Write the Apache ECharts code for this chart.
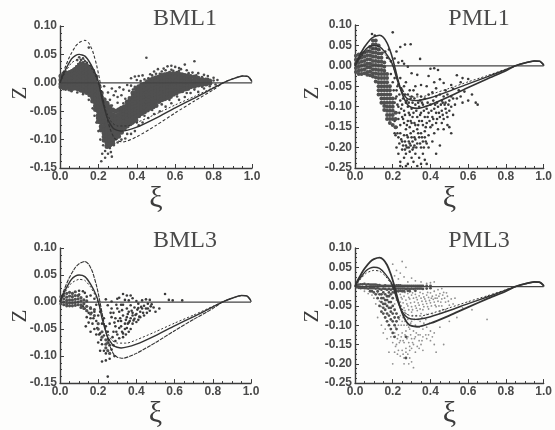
<!DOCTYPE html>
<html><head><meta charset="utf-8">
<style>html,body{margin:0;padding:0;background:#fdfdfc}#c{width:555px;height:430px}</style>
<script src="https://cdn.jsdelivr.net/npm/echarts@6/dist/echarts.min.js"></script></head>
<body><div id="c"></div>
<script>
// Shared reference curves [xi, z]
const zeroLine=[[0,0],[0.5,0],[1,0]];
const outerCurve=[[0,0],[0.01,0.012],[0.03,0.03],[0.05,0.046],[0.08,0.064],[0.1,0.071],[0.13,0.075],[0.15,0.07],[0.17,0.056],[0.19,0.032],[0.205,0.008],[0.22,-0.02],[0.24,-0.055],[0.26,-0.08],[0.28,-0.096],[0.3,-0.102],[0.33,-0.104],[0.4,-0.095],[0.5,-0.075],[0.6,-0.053],[0.7,-0.032],[0.8,-0.012],[0.85,0],[0.9,0.007],[0.95,0.012],[0.98,0.011],[1,0.002],[1,0]];
const midCurve=[[0,0],[0.01,0.009],[0.03,0.024],[0.06,0.042],[0.08,0.048],[0.1,0.05],[0.13,0.047],[0.16,0.033],[0.19,0.012],[0.205,-0.005],[0.22,-0.03],[0.25,-0.065],[0.28,-0.081],[0.32,-0.085],[0.4,-0.078],[0.5,-0.062],[0.6,-0.044],[0.7,-0.027],[0.8,-0.009],[0.85,0],[0.9,0.007],[0.95,0.012],[0.98,0.011],[1,0.002]];
const innerCurve=[[0,0],[0.03,0.02],[0.06,0.035],[0.1,0.042],[0.13,0.04],[0.16,0.028],[0.19,0.008],[0.21,-0.012],[0.24,-0.05],[0.27,-0.07],[0.3,-0.076],[0.35,-0.076],[0.4,-0.07],[0.5,-0.055],[0.6,-0.039],[0.7,-0.024],[0.8,-0.008],[0.85,0]];

// Point clouds, read column by column: [xi, z, z, z, ...]
const bml1Dense=[
[0.005,0.012,0.005,-0.002,-0.007],[0.02,0.016,0.009,0.003,-0.004,-0.009],[0.035,0.017,0.011,0.004,-0.002,-0.008],[0.05,0.018,0.012,0.006,0,-0.006,-0.011],[0.065,0.02,0.014,0.007,0.001,-0.005,-0.01],[0.08,0.024,0.017,0.011,0.004,-0.003,-0.009],[0.095,0.028,0.021,0.015,0.008,0.002,-0.005,-0.011],[0.11,0.032,0.025,0.018,0.011,0.005,-0.002,-0.009,-0.013],[0.125,0.031,0.024,0.017,0.011,0.004,-0.003,-0.01,-0.015],[0.14,0.029,0.022,0.015,0.009,0.002,-0.005,-0.011,-0.017],[0.155,0.025,0.019,0.012,0.005,-0.002,-0.008,-0.014,-0.021],[0.17,0.02,0.014,0.007,0.001,-0.006,-0.012,-0.019,-0.026,-0.032],[0.185,0.011,0.005,-0.002,-0.009,-0.015,-0.022,-0.028,-0.035,-0.041,-0.047],[0.2,-0.004,-0.011,-0.017,-0.024,-0.03,-0.037,-0.043,-0.05,-0.057,-0.062,-0.068],[0.215,-0.018,-0.025,-0.031,-0.038,-0.044,-0.051,-0.057,-0.064,-0.07,-0.077,-0.083],[0.23,-0.03,-0.037,-0.043,-0.05,-0.056,-0.063,-0.069,-0.076,-0.082,-0.089,-0.095,-0.101],[0.245,-0.036,-0.042,-0.048,-0.055,-0.061,-0.068,-0.074,-0.081,-0.087,-0.094,-0.1,-0.106,-0.112],[0.26,-0.042,-0.05,-0.057,-0.063,-0.07,-0.076,-0.083,-0.089,-0.096,-0.102,-0.109],[0.275,-0.048,-0.056,-0.062,-0.069,-0.075,-0.082,-0.088,-0.095,-0.101,-0.107],[0.29,-0.05,-0.058,-0.065,-0.071,-0.078,-0.084,-0.091,-0.097],[0.305,-0.048,-0.056,-0.063,-0.069,-0.076,-0.082,-0.088,-0.094],[0.32,-0.045,-0.052,-0.058,-0.063,-0.069,-0.076,-0.081,-0.087],[0.335,-0.042,-0.05,-0.056,-0.062,-0.068,-0.074,-0.08],[0.35,-0.034,-0.04,-0.046,-0.052,-0.058,-0.064,-0.07,-0.076],[0.365,-0.028,-0.035,-0.041,-0.047,-0.053,-0.059,-0.065,-0.072],[0.38,-0.018,-0.025,-0.032,-0.038,-0.044,-0.05,-0.056,-0.062,-0.068],[0.395,-0.01,-0.017,-0.024,-0.03,-0.036,-0.042,-0.048,-0.054,-0.06,-0.066],[0.41,-0.007,-0.014,-0.021,-0.027,-0.033,-0.039,-0.045,-0.051,-0.058],[0.425,-0.004,-0.011,-0.017,-0.023,-0.029,-0.035,-0.041,-0.047,-0.054],[0.44,-0.002,-0.008,-0.014,-0.02,-0.026,-0.032,-0.038,-0.044,-0.051],[0.455,0.002,-0.005,-0.011,-0.017,-0.023,-0.029,-0.035,-0.041,-0.048],[0.47,0.005,-0.002,-0.008,-0.014,-0.02,-0.026,-0.032,-0.038,-0.045],[0.485,0.007,0.001,-0.005,-0.011,-0.017,-0.023,-0.029,-0.035,-0.042],[0.5,0.009,0.003,-0.003,-0.009,-0.015,-0.021,-0.027,-0.033,-0.04],[0.515,0.01,0.004,-0.002,-0.009,-0.015,-0.021,-0.027,-0.033],[0.53,0.013,0.007,0.001,-0.005,-0.011,-0.017,-0.024,-0.03],[0.545,0.014,0.008,0.002,-0.004,-0.01,-0.016,-0.022,-0.028],[0.56,0.015,0.009,0.003,-0.003,-0.009,-0.015,-0.021,-0.026],[0.575,0.016,0.01,0.004,-0.002,-0.008,-0.014,-0.02,-0.024],[0.59,0.016,0.01,0.004,-0.002,-0.008,-0.014,-0.02],[0.605,0.016,0.01,0.004,-0.002,-0.008,-0.014,-0.018],[0.62,0.015,0.009,0.003,-0.003,-0.009,-0.015],[0.635,0.014,0.008,0.002,-0.004,-0.01,-0.014],[0.65,0.013,0.007,0.001,-0.005,-0.011],[0.665,0.012,0.006,0,-0.006,-0.01],[0.68,0.011,0.005,-0.001,-0.007],[0.7,0.01,0.004,-0.002,-0.006],[0.72,0.008,0.002,-0.004],[0.74,0.006,0.001,-0.003],[0.76,0.005,0,-0.002],[0.78,0.003,-0.001]];
const bml1Sparse=[
[0.45,0.044],[0.7,0.038],[0.65,0.032],[0.58,0.03],[0.56,0.029],[0.6,0.028],[0.62,0.026],[0.54,0.025],[0.51,0.024],[0.63,0.024],[0.66,0.022],[0.49,0.02],[0.55,0.022],[0.59,0.021],[0.69,0.018],[0.72,0.017],[0.75,0.014],[0.77,0.012],[0.8,0.009],[0.82,0.005],[0.47,0.015],[0.43,0.013],[0.41,0.012],[0.39,0.011],[0.37,0.008],[0.4,0.005],[0.44,0.006],[0.46,0.008],[0.52,0.016],[0.57,0.019],[0.61,0.019],[0.35,-0.004],[0.37,-0.005],[0.39,-0.007],[0.36,-0.014],[0.38,-0.012],[0.41,-0.006],[0.33,-0.012],[0.31,-0.008],[0.29,-0.015],[0.27,-0.01],[0.25,-0.017],[0.23,-0.006],[0.28,-0.022],[0.3,-0.025],[0.32,-0.022],[0.34,-0.028],[0.26,-0.03],[0.3,-0.035],[0.33,-0.036],[0.36,-0.026],[0.31,-0.045],[0.27,-0.04],[0.22,-0.125],[0.235,-0.12],[0.25,-0.125],[0.265,-0.122],[0.26,-0.115],[0.28,-0.11],[0.27,-0.13],[0.235,-0.132],[0.215,-0.138],[0.225,-0.11],[0.21,-0.1],[0.2,-0.085],[0.19,-0.07],[0.18,-0.058],[0.17,-0.045],[0.15,-0.03],[0.12,-0.02],[0.3,-0.105],[0.32,-0.1],[0.34,-0.098],[0.35,-0.09],[0.37,-0.09],[0.39,-0.085],[0.41,-0.075],[0.43,-0.07],[0.46,-0.062],[0.49,-0.055],[0.52,-0.05],[0.55,-0.042],[0.58,-0.036],[0.62,-0.03],[0.65,-0.025],[0.68,-0.018],[0.72,-0.016],[0.75,-0.01],[0.78,-0.006],[0.81,-0.003],[0.1,0.045],[0.12,0.043],[0.09,0.04],[0.13,0.038],[0.14,0.035],[0.11,0.04],[0.16,0.03],[0.15,0.062],[0.03,-0.012],[0.06,-0.015],[0.09,-0.017],[0.18,0.015],[0.19,0.008],[0.105,0.036],[0.095,0.033],[0.12,0.036],[0.13,0.033],[0.15,0.03],[0.085,0.029],[0.07,0.024],[0.165,0.025],[0.175,0.022],[0.06,0.022],[0.4,-0.07],[0.44,-0.058],[0.48,-0.048],[0.53,-0.038],[0.57,-0.03],[0.61,-0.024],[0.66,-0.018],[0.7,-0.012],[0.74,-0.007],[0.42,0.003],[0.48,0.013],[0.5,0.016],[0.53,0.02],[0.58,0.023],[0.62,0.021],[0.67,0.017],[0.71,0.013],[0.74,0.01],[0.77,0.007],[0.8,0.004]];
const pml1Dense=[
[0.005,0.025,0.015,0.005,-0.005,-0.015],[0.02,0.028,0.017,0.007,-0.003,-0.012,-0.02],[0.035,0.03,0.02,0.01,0,-0.01,-0.02],[0.05,0.032,0.022,0.012,0.002,-0.008,-0.018],[0.065,0.036,0.026,0.016,0.006,-0.004,-0.015,-0.022],[0.08,0.046,0.036,0.026,0.016,0.006,-0.004,-0.014,-0.023],[0.095,0.062,0.052,0.042,0.032,0.022,0.012,0.002,-0.008,-0.018,-0.026],[0.11,0.062,0.052,0.042,0.032,0.022,0.012,0.002,-0.008,-0.018,-0.028,-0.038],[0.125,0.05,0.04,0.03,0.02,0.01,0,-0.01,-0.02,-0.03,-0.04,-0.05,-0.06,-0.07],[0.14,0.03,0.02,0.01,0,-0.01,-0.02,-0.03,-0.04,-0.05,-0.06,-0.07,-0.08,-0.09],[0.155,0.008,-0.002,-0.012,-0.02,-0.03,-0.04,-0.05,-0.06,-0.07,-0.08,-0.09,-0.098,-0.108],[0.17,-0.02,-0.03,-0.04,-0.05,-0.06,-0.07,-0.08,-0.09,-0.1,-0.11,-0.12,-0.13],[0.185,-0.05,-0.06,-0.07,-0.08,-0.09,-0.1,-0.11,-0.12,-0.13,-0.14],[0.2,-0.08,-0.09,-0.1,-0.11,-0.12,-0.13,-0.145],[0.215,-0.115,-0.13,-0.15]];
const pml1Sparse=[
[0.2,0.082],[0.09,0.078],[0.105,0.074],[0.24,0.046],[0.265,0.052],[0.295,0.053],[0.345,0.017],[0.22,0.035],[0.18,0.04],[0.16,0.035],[0.17,0.02],[0.19,0.012],[0.21,0.018],[0.23,0.008],[0.25,0.012],[0.26,0.005],[0.28,-0.002],[0.4,-0.007],[0.42,-0.006],[0.44,-0.01],[0.3,-0.018],[0.33,-0.022],[0.39,-0.025],[0.54,-0.023],[0.57,-0.03],[0.6,-0.032],[0.56,-0.04],[0.45,-0.033],[0.42,-0.04],[0.47,-0.042],[0.51,-0.047],[0.35,-0.047],[0.32,-0.05],[0.38,-0.05],[0.43,-0.055],[0.48,-0.06],[0.52,-0.056],[0.55,-0.06],[0.58,-0.063],[0.62,-0.07],[0.64,-0.09],[0.65,-0.095],[0.57,-0.09],[0.53,-0.095],[0.6,-0.085],
[0.19,-0.02],[0.2,-0.04],[0.21,-0.03],[0.22,-0.06],[0.23,-0.045],[0.24,-0.03],[0.25,-0.06],[0.26,-0.05],[0.27,-0.04],[0.28,-0.07],[0.29,-0.06],[0.3,-0.075],[0.31,-0.06],[0.33,-0.07],[0.35,-0.075],[0.37,-0.08],[0.39,-0.07],[0.41,-0.065],[0.43,-0.075],[0.45,-0.07],[0.47,-0.075],[0.49,-0.07],[0.51,-0.075],[0.46,-0.085],[0.48,-0.09],[0.5,-0.085],[0.52,-0.08],[0.54,-0.08],[0.56,-0.075],
[0.19,-0.07],[0.2,-0.08],[0.21,-0.09],[0.22,-0.075],[0.23,-0.1],[0.24,-0.085],[0.25,-0.095],[0.26,-0.11],[0.27,-0.09],[0.28,-0.1],[0.29,-0.12],[0.3,-0.105],[0.31,-0.115],[0.32,-0.095],[0.33,-0.125],[0.34,-0.1],[0.35,-0.115],[0.36,-0.095],[0.37,-0.125],[0.38,-0.105],[0.39,-0.115],[0.4,-0.095],[0.41,-0.125],[0.42,-0.105],[0.43,-0.115],[0.44,-0.1],[0.45,-0.125],[0.46,-0.11],[0.47,-0.13],[0.48,-0.105],[0.49,-0.125],[0.5,-0.11],[0.51,-0.1],[0.52,-0.12],
[0.2,-0.12],[0.21,-0.135],[0.22,-0.115],[0.23,-0.13],[0.24,-0.145],[0.25,-0.125],[0.26,-0.14],[0.27,-0.155],[0.28,-0.135],[0.29,-0.15],[0.3,-0.14],[0.31,-0.16],[0.32,-0.145],[0.33,-0.155],[0.34,-0.135],[0.35,-0.165],[0.36,-0.145],[0.37,-0.16],[0.38,-0.14],[0.39,-0.17],[0.4,-0.15],[0.41,-0.145],[0.42,-0.165],[0.43,-0.14],[0.44,-0.155],[0.46,-0.14],[0.47,-0.155],[0.49,-0.145],[0.5,-0.15],[0.51,-0.165],
[0.21,-0.165],[0.22,-0.15],[0.23,-0.175],[0.24,-0.165],[0.25,-0.185],[0.26,-0.17],[0.27,-0.195],[0.28,-0.175],[0.29,-0.19],[0.3,-0.175],[0.31,-0.2],[0.32,-0.18],[0.33,-0.19],[0.34,-0.175],[0.35,-0.2],[0.36,-0.185],[0.37,-0.175],[0.38,-0.19],[0.39,-0.2],[0.41,-0.185],[0.43,-0.215],[0.45,-0.195],
[0.22,-0.2],[0.23,-0.215],[0.24,-0.235],[0.25,-0.205],[0.26,-0.225],[0.27,-0.215],[0.28,-0.24],[0.29,-0.21],[0.3,-0.225],[0.31,-0.235],[0.32,-0.215],[0.33,-0.245],[0.34,-0.225],[0.35,-0.24],[0.36,-0.215],[0.37,-0.23],[0.38,-0.24],[0.27,-0.245],[0.24,-0.245],
[0.215,-0.08],[0.225,-0.095],[0.235,-0.115],[0.245,-0.105],[0.255,-0.13],[0.265,-0.12],[0.275,-0.145],[0.285,-0.115],[0.295,-0.135],[0.305,-0.125],[0.315,-0.14],[0.325,-0.11],[0.335,-0.145],[0.345,-0.12],[0.355,-0.135],[0.365,-0.11],[0.375,-0.15],[0.385,-0.125],[0.395,-0.135],[0.405,-0.11],[0.415,-0.13],[0.425,-0.095],[0.435,-0.13],[0.445,-0.115],[0.455,-0.095],[0.465,-0.12],[0.475,-0.095],[0.485,-0.115],[0.495,-0.095],
[0.205,-0.06],[0.225,-0.05],[0.235,-0.07],[0.245,-0.055],[0.255,-0.08],[0.265,-0.07],[0.275,-0.085],[0.285,-0.09],[0.295,-0.08],[0.305,-0.09],[0.315,-0.08],[0.335,-0.09],[0.345,-0.085],[0.355,-0.09],[0.385,-0.09],[0.415,-0.085],[0.435,-0.09],[0.465,-0.09],
[0.215,-0.17],[0.225,-0.165],[0.235,-0.19],[0.245,-0.18],[0.255,-0.195],[0.265,-0.185],[0.275,-0.17],[0.285,-0.2],[0.295,-0.165],[0.305,-0.185],[0.315,-0.175],[0.325,-0.2],[0.335,-0.165],[0.345,-0.19],[0.355,-0.175],[0.365,-0.2],[0.375,-0.185],[0.285,-0.185],[0.305,-0.205],[0.265,-0.205],[0.295,-0.195],[0.275,-0.2],[0.315,-0.195]];
const bml3Dense=[
[0.005,0.01,0.003,-0.003],[0.02,0.012,0.006,0,-0.005],[0.035,0.016,0.009,0.003,-0.003,-0.007],[0.05,0.018,0.011,0.004,-0.002,-0.007],[0.065,0.016,0.01,0.004,-0.002,-0.007],[0.08,0.019,0.012,0.005,-0.001,-0.006],[0.095,0.012,0.006,0,-0.005],[0.11,0.008,0.002,-0.005,-0.01],[0.125,0.004,-0.003,-0.012],[0.14,0.002,-0.008,-0.016],[0.16,-0.012,-0.022],[0.18,-0.014,-0.025],[0.2,-0.04,-0.05],[0.22,-0.055,-0.065],[0.24,-0.07,-0.078,-0.085],[0.25,-0.075,-0.09],[0.26,-0.08,-0.095]];
const bml3Sparse=[
[0.25,-0.138],[0.22,-0.11],[0.24,-0.108],[0.26,-0.105],[0.285,-0.1],[0.27,-0.088],[0.21,-0.09],[0.2,-0.075],[0.19,-0.06],[0.22,-0.078],[0.23,-0.062],[0.21,-0.058],[0.18,-0.05],[0.16,-0.055],[0.135,-0.045],[0.14,-0.028],[0.17,-0.04],[0.19,-0.035],[0.2,-0.025],[0.15,-0.02],[0.13,-0.012],[0.12,-0.008],[0.16,-0.01],[0.18,-0.018],[0.19,-0.005],[0.14,0.01],[0.13,0.017],[0.12,0.02],[0.16,0.012],[0.18,0.006],[0.1,0.021],[0.1,0.014],[0.16,-0.03],[0.21,-0.018],[0.23,-0.03],[0.24,-0.045],[0.25,-0.055],[0.22,-0.04],
[0.24,0.005],[0.25,-0.006],[0.27,-0.012],[0.28,-0.02],[0.29,-0.03],[0.27,-0.028],[0.29,-0.045],[0.28,-0.055],[0.3,-0.06],[0.31,-0.048],[0.32,-0.035],[0.3,-0.012],[0.31,0.008],[0.33,0.015],[0.35,0.012],[0.33,-0.005],[0.35,-0.012],[0.37,-0.006],[0.31,-0.018],[0.33,-0.025],[0.34,-0.04],[0.36,-0.018],[0.38,-0.02],[0.4,-0.022],[0.42,-0.018],[0.43,-0.012],[0.44,-0.007],[0.46,-0.012],[0.47,-0.016],[0.49,-0.01],[0.45,0.005],[0.47,0.004],[0.48,-0.004],[0.5,-0.018],[0.55,0.015],[0.57,0.004],[0.64,0.003],[0.59,0.003],[0.52,-0.012],[0.37,0.012],[0.38,0.007],[0.4,0.002],[0.41,-0.003],[0.43,0.003],[0.35,-0.028],[0.37,-0.03],[0.39,-0.031],[0.41,-0.033],[0.36,-0.038],[0.38,-0.04],[0.35,-0.048],[0.37,-0.05],[0.33,-0.058],[0.31,-0.067],[0.33,-0.065],[0.29,-0.072],[0.36,-0.055],[0.34,-0.05],[0.32,-0.045],[0.38,-0.025],[0.4,-0.037],[0.42,-0.028],[0.44,-0.025],[0.45,-0.012],
[0.315,-0.03],[0.325,-0.055],[0.345,-0.033],[0.355,-0.022],[0.365,-0.035],[0.375,-0.016],[0.385,-0.034],[0.395,-0.024],[0.405,-0.014],[0.415,-0.027],[0.425,-0.009],[0.435,-0.02],[0.455,-0.02],[0.46,-0.003],[0.475,-0.008],[0.345,-0.06],[0.355,-0.04],[0.325,-0.015],[0.295,-0.005],[0.285,-0.038],[0.305,-0.035],[0.265,-0.02],[0.26,-0.04],[0.275,-0.065],[0.255,-0.07],[0.24,-0.095],[0.23,-0.09],[0.215,-0.07],[0.205,-0.06],[0.195,-0.048],[0.175,-0.03],[0.165,-0.02],[0.15,-0.038],[0.27,0.001],[0.3,0.006],[0.34,0.004],[0.36,0.003],[0.39,-0.01],[0.41,-0.011],[0.28,-0.08],[0.295,-0.055],[0.32,-0.005]];
const pml3Dark=[
[0.01,0.004,-0.002],[0.02,0.005,-0.003],[0.03,0.006,-0.004],[0.04,0.006,-0.003],[0.05,0.007,-0.004],[0.06,0.005,-0.004],[0.07,0.006,-0.005],[0.08,0.005,-0.004,-0.012],[0.09,0.005,-0.004,-0.012],[0.1,0.005,-0.004,-0.015],[0.11,0.005,-0.005,-0.02],[0.12,0.004,-0.004,-0.012,-0.03],[0.13,0.004,-0.006,-0.02,-0.05],[0.14,0.002,-0.008,-0.02,-0.03,-0.04,-0.065],[0.15,0.002,-0.005,-0.015,-0.03,-0.045,-0.055,-0.07],[0.16,0.003,-0.006,-0.02,-0.035,-0.045,-0.06,-0.08],[0.17,0.002,-0.008,-0.025,-0.035,-0.05,-0.07,-0.09],[0.18,0.002,-0.006,-0.015,-0.025,-0.04,-0.055,-0.075,-0.1],[0.19,0.002,-0.008,-0.02,-0.04,-0.055,-0.065,-0.085,-0.11],[0.2,0.002,-0.006,-0.015,-0.03,-0.05,-0.07,-0.09,-0.12],[0.21,0.002,-0.005,-0.015,-0.06,-0.08,-0.1,-0.13],[0.22,0.003,-0.005,-0.012,-0.07,-0.09,-0.11],[0.23,0.003,-0.005,-0.012,-0.08],[0.24,0.003,-0.005,-0.011],[0.25,0.002,-0.005,-0.012],[0.26,0.002,-0.005,-0.012],[0.27,-0.13,-0.185,0.002,-0.006],[0.28,0.002,-0.005,-0.011],[0.29,0.002,-0.006,-0.012],[0.3,0.002,-0.005],[0.31,0.002,-0.006],[0.32,0.002,-0.005,-0.011],[0.33,0.002,-0.005],[0.34,0.002,-0.005],[0.35,0.002,-0.005],[0.36,0.002,-0.006],[0.38,0.002,-0.005],[0.4,0.002,-0.004]];
const pml3Light=[
[0.25,0.065],[0.27,0.05],[0.2,0.058],[0.22,0.042],[0.24,0.035],[0.21,0.028],[0.23,0.02],[0.26,0.025],[0.3,0.022],[0.28,0.012],[0.32,0.015],[0.35,0.012],[0.38,0.008],[0.4,0.01],[0.42,0.012],[0.05,-0.012],[0.07,-0.018],[0.09,-0.022],[0.1,-0.03],[0.12,-0.016],[0.13,-0.038],[0.11,-0.045],[0.14,-0.052],[0.24,-0.02],[0.26,-0.025],[0.28,-0.018],[0.3,-0.022],[0.32,-0.02],[0.34,-0.024],[0.36,-0.018],[0.38,-0.022],[0.4,-0.016],[0.42,-0.012],[0.44,-0.008],[0.46,-0.005],[0.25,-0.032],[0.27,-0.035],[0.29,-0.032],[0.31,-0.03],[0.33,-0.034],[0.35,-0.03],[0.37,-0.032],[0.39,-0.028],[0.41,-0.025],[0.43,-0.022],[0.45,-0.018],[0.47,-0.015],[0.49,-0.025],[0.51,-0.032],[0.53,-0.03],[0.48,-0.04],[0.5,-0.048],[0.46,-0.032],[0.44,-0.038],[0.42,-0.04],[0.4,-0.042],[0.38,-0.044],[0.36,-0.046],[0.34,-0.048],[0.32,-0.05],[0.3,-0.052],[0.28,-0.05],[0.26,-0.055],[0.24,-0.04],[0.22,-0.035],[0.21,-0.045],[0.43,-0.052],[0.46,-0.05],[0.52,-0.045],[0.39,-0.058],[0.36,-0.06],[0.33,-0.062],[0.3,-0.066],[0.27,-0.07],[0.48,-0.06],[0.45,-0.065],[0.41,-0.07],[0.38,-0.072],[0.35,-0.07],[0.54,-0.08],[0.7,-0.085],[0.62,-0.06],[0.2,-0.07],[0.22,-0.09],[0.24,-0.075],[0.25,-0.09],[0.23,-0.1],[0.26,-0.1],[0.28,-0.085],[0.3,-0.09],[0.32,-0.1],[0.34,-0.105],[0.36,-0.11],[0.38,-0.105],[0.4,-0.115],[0.42,-0.12],[0.29,-0.11],[0.31,-0.115],[0.27,-0.115],[0.25,-0.12],[0.23,-0.125],[0.21,-0.12],[0.19,-0.13],[0.2,-0.145],[0.22,-0.15],[0.24,-0.14],[0.26,-0.145],[0.28,-0.13],[0.3,-0.135],[0.32,-0.13],[0.34,-0.14],[0.36,-0.13],[0.38,-0.135],[0.4,-0.14],[0.35,-0.15],[0.33,-0.155],[0.31,-0.15],[0.29,-0.155],[0.27,-0.16],[0.25,-0.165],[0.23,-0.165],[0.21,-0.17],[0.18,-0.17],[0.2,-0.2],[0.24,-0.18],[0.28,-0.175],[0.32,-0.17],[0.36,-0.165],[0.43,-0.17],[0.47,-0.15],[0.42,-0.15],[0.3,-0.195],[0.26,-0.2],[0.31,-0.21],[0.45,-0.105],[0.5,-0.09],[0.57,-0.055],[0.12,-0.08],[0.14,-0.1],[0.15,-0.12],[0.17,-0.135],[0.16,-0.11],
[0.245,-0.028],[0.265,-0.015],[0.285,-0.028],[0.305,-0.016],[0.325,-0.028],[0.345,-0.015],[0.365,-0.027],[0.385,-0.015],[0.405,-0.03],[0.425,-0.03],[0.445,-0.025],[0.465,-0.022],[0.485,-0.016],[0.255,-0.042],[0.275,-0.045],[0.295,-0.042],[0.315,-0.04],[0.335,-0.042],[0.355,-0.038],[0.375,-0.038],[0.395,-0.036],[0.415,-0.033],[0.435,-0.03],[0.455,-0.04],[0.475,-0.03],[0.495,-0.038],[0.245,-0.05],[0.265,-0.062],[0.285,-0.06],[0.305,-0.06],[0.325,-0.056],[0.345,-0.058],[0.365,-0.052],[0.385,-0.052],[0.405,-0.05],[0.425,-0.048],[0.445,-0.05],[0.465,-0.06],[0.235,-0.085],[0.245,-0.1],[0.255,-0.08],[0.265,-0.09],[0.275,-0.1],[0.285,-0.105],[0.295,-0.095],[0.305,-0.075],[0.315,-0.085],[0.325,-0.075],[0.335,-0.085],[0.345,-0.09],[0.355,-0.08],[0.365,-0.095],[0.375,-0.085],[0.395,-0.095],[0.215,-0.105],[0.205,-0.13],[0.225,-0.135],[0.235,-0.145],[0.245,-0.13],[0.255,-0.14],[0.265,-0.125],[0.275,-0.135],[0.285,-0.145],[0.295,-0.125],[0.305,-0.145],[0.315,-0.135],[0.325,-0.12],[0.335,-0.125],[0.345,-0.125],[0.355,-0.14],[0.375,-0.125],[0.39,-0.125],[0.41,-0.13],[0.215,-0.155],[0.225,-0.175],[0.255,-0.175],[0.27,-0.17],[0.29,-0.165],[0.3,-0.16],[0.34,-0.16],[0.26,-0.185],[0.29,-0.185],[0.285,-0.2]];

const panels=[
 {title:'BML1',left:60,top:26,h:142,w:192,ymin:-0.15,tx:180,ty:2,dense:bml1Dense,sparse:bml1Sparse,ds:5,ss:2.6,sc:'#4a4a4a',outer:{type:[3,2],width:1.1},zx:20,zy:93},
 {title:'PML1',left:355,top:25,h:143,w:191,ymin:-0.25,tx:474,ty:2,dense:pml1Dense,sparse:pml1Sparse,ds:4,ss:2.6,sc:'#3a3a3a',outer:{type:'solid',width:1.6},zx:312,zy:93},
 {title:'BML3',left:60,top:248,h:144,w:191,ymin:-0.15,tx:180,ty:224,dense:bml3Dense,sparse:bml3Sparse,ds:3.2,ss:2.6,sc:'#3a3a3a',outer:{type:[4,1],width:1.1},zx:20,zy:316},
 {title:'PML3',left:355,top:248,h:144,w:191,ymin:-0.25,tx:474,ty:224,dense:pml3Dark,sparse:pml3Light,ds:2.8,ss:1.8,sc:'#909090',outer:{type:'solid',width:1.8},zx:312,zy:316}
];
const tickColor='#3c3c3c';
const option={animation:false,backgroundColor:'#fdfdfc',grid:[],xAxis:[],yAxis:[],series:[],
 title:panels.map(p=>({text:p.title,left:p.tx,top:p.ty,textAlign:'center',textStyle:{fontFamily:'Liberation Serif',fontSize:24,fontWeight:'normal',color:'#4a4a4a'}})),
 graphic:panels.map(p=>({type:'text',x:p.zx,y:p.zy,rotation:Math.PI/2,style:{text:'Z',font:'21px "Liberation Serif"',fill:'#3c3c3c',textAlign:'center',textVerticalAlign:'middle'}}))};
const expand=cols=>cols.flatMap(c=>c.slice(1).map(z=>[c[0],z]));
panels.forEach((p,i)=>{
 option.grid.push({left:p.left,top:p.top,width:p.w,height:p.h});
 const axisLine={show:true,onZero:false,lineStyle:{color:tickColor,width:1.4}};
 const label={fontFamily:'Liberation Sans',fontSize:12,color:'#4a4a4a',fontWeight:'bold'};
 option.xAxis.push({type:'value',gridIndex:i,min:0,max:1,interval:0.2,axisLine,
  axisTick:{inside:true,length:4,lineStyle:{color:tickColor}},minorTick:{show:true,splitNumber:4,length:2,lineStyle:{color:tickColor}},splitLine:{show:false},
  axisLabel:{...label,margin:3,formatter:v=>v.toFixed(1),showMinLabel:true,showMaxLabel:true},
  name:'ξ',nameLocation:'middle',nameGap:15,nameTextStyle:{fontFamily:'Liberation Serif',fontSize:30,color:'#3c3c3c'}});
 option.yAxis.push({type:'value',gridIndex:i,min:p.ymin,max:0.1,interval:0.05,axisLine,
  axisTick:{inside:true,length:4,lineStyle:{color:tickColor}},minorTick:{show:true,splitNumber:4,length:2,lineStyle:{color:tickColor}},splitLine:{show:false},
  axisLabel:{...label,margin:3,formatter:v=>v.toFixed(2),showMinLabel:true,showMaxLabel:true}});
 const line=(data,ls,color)=>({type:'line',xAxisIndex:i,yAxisIndex:i,data,smooth:0.2,symbol:'none',z:3,lineStyle:{color:color||'#333',...ls}});
 option.series.push(
  {type:'scatter',xAxisIndex:i,yAxisIndex:i,data:p.sparse,symbolSize:p.ss,itemStyle:{color:p.sc,opacity:1},z:2},
  {type:'scatter',xAxisIndex:i,yAxisIndex:i,data:expand(p.dense),symbolSize:p.ds,itemStyle:{color:'#505050',opacity:1},z:2},
  {...line(zeroLine,{width:1.3},'#444'),smooth:false},
  line(outerCurve,p.outer),
  line(midCurve,{width:1.4}),
  line(innerCurve,{width:1,type:[2,2]})
 );
});
echarts.init(document.getElementById('c'),null,{renderer:'canvas'}).setOption(option);
</script></body></html>
